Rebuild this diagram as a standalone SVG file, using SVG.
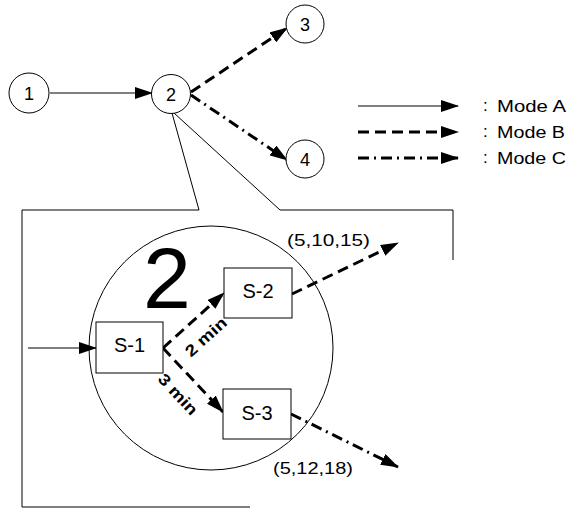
<svg xmlns="http://www.w3.org/2000/svg" width="568" height="509" viewBox="0 0 568 509">
<style>
  .node { fill: #fff; stroke: #000; stroke-width: 1; }
  .t { font-family: "Liberation Sans", Arial, sans-serif; fill: #000; }
  .lbl { font-size: 18px; text-anchor: middle; }
  .s { font-size: 20px; text-anchor: middle; }
  .small { font-size: 16px; }
  .leg { font-size: 17px; }
  .a { stroke: #000; stroke-width: 1; fill: none; marker-end: url(#ah); }
  .b { stroke: #000; stroke-width: 3; fill: none; stroke-dasharray: 11 6; marker-end: url(#ah); }
  .c { stroke: #000; stroke-width: 3; fill: none; stroke-dasharray: 11 5 2 5; marker-end: url(#ah); }
  .thin { stroke: #000; stroke-width: 1; fill: none; }
</style>
<defs>
  <marker id="ah" markerUnits="userSpaceOnUse" markerWidth="18" markerHeight="12" refX="17" refY="6" orient="auto">
    <path d="M0,0 L18,6 L0,12 z" fill="#000"/>
  </marker>
</defs>
<rect width="568" height="509" fill="#fff"/>

<g id="callout">
  <line class="thin" x1="172" y1="113" x2="199" y2="210"/>
  <line class="thin" x1="174" y1="113" x2="280" y2="210"/>
  <polyline class="thin" points="199,210 22,210 22,507 250,507"/>
  <polyline class="thin" points="280,210 453,210 453,260"/>
</g>

<g id="connectors">
  <line class="a" x1="50" y1="93" x2="152" y2="93"/>
  <line class="b" x1="191" y1="92" x2="287" y2="28"/>
  <line class="c" x1="191" y1="95" x2="287" y2="160"/>
  <line class="a" x1="28" y1="348" x2="96" y2="348"/>
  <line class="b" x1="163" y1="348" x2="224" y2="293"/>
  <line class="b" x1="163" y1="348" x2="223" y2="412"/>
  <line class="b" x1="292" y1="294" x2="398" y2="243"/>
  <line class="c" x1="291" y1="414" x2="398" y2="467"/>
</g>

<g id="n1"><circle class="node" cx="29" cy="93" r="20"/><text class="t lbl" x="29" y="99.5">1</text></g>
<g id="n2"><circle class="node" cx="171" cy="94" r="19.5"/><text class="t lbl" x="171" y="100.5">2</text></g>
<g id="n3"><circle class="node" cx="305" cy="24" r="19"/><text class="t lbl" x="305" y="30.5">3</text></g>
<g id="n4"><circle class="node" cx="305" cy="159" r="19"/><text class="t lbl" x="305" y="165.5">4</text></g>

<g id="zoom2">
  <circle cx="211" cy="348" r="122" fill="none" stroke="#000" stroke-width="1"/>
  <text class="t" x="167" y="308" font-size="86" text-anchor="middle">2</text>
</g>

<g id="s1"><rect class="node" x="96" y="322" width="67" height="51"/><text class="t s" x="129.5" y="352">S-1</text></g>
<g id="s2"><rect class="node" x="224" y="268" width="68" height="50"/><text class="t s" x="258" y="298">S-2</text></g>
<g id="s3"><rect class="node" x="223" y="389" width="68" height="50"/><text class="t s" x="257" y="420">S-3</text></g>

<g id="labels">
  <text class="t small" font-weight="bold" x="209.5" y="341" text-anchor="middle" textLength="50" lengthAdjust="spacingAndGlyphs" transform="rotate(-42 209.5 341)">2 min</text>
  <text class="t small" font-weight="bold" x="174" y="398" text-anchor="middle" textLength="50" lengthAdjust="spacingAndGlyphs" transform="rotate(47 174 398)">3 min</text>
  <text class="t small" x="287" y="246" textLength="83" lengthAdjust="spacingAndGlyphs">(5,10,15)</text>
  <text class="t small" x="273" y="474" textLength="80" lengthAdjust="spacingAndGlyphs">(5,12,18)</text>
</g>

<g id="legend">
  <line class="a" x1="358" y1="106" x2="458" y2="106"/>
  <line class="b" x1="358" y1="132" x2="458" y2="132"/>
  <line class="c" x1="358" y1="158" x2="458" y2="158"/>
  <text class="t leg" x="483" y="111">:</text>
  <text class="t leg" x="483" y="137">:</text>
  <text class="t leg" x="483" y="163">:</text>
  <text class="t leg" x="497" y="112" textLength="69" lengthAdjust="spacingAndGlyphs">Mode A</text>
  <text class="t leg" x="497" y="138" textLength="68" lengthAdjust="spacingAndGlyphs">Mode B</text>
  <text class="t leg" x="497" y="164" textLength="69" lengthAdjust="spacingAndGlyphs">Mode C</text>
</g>
</svg>
